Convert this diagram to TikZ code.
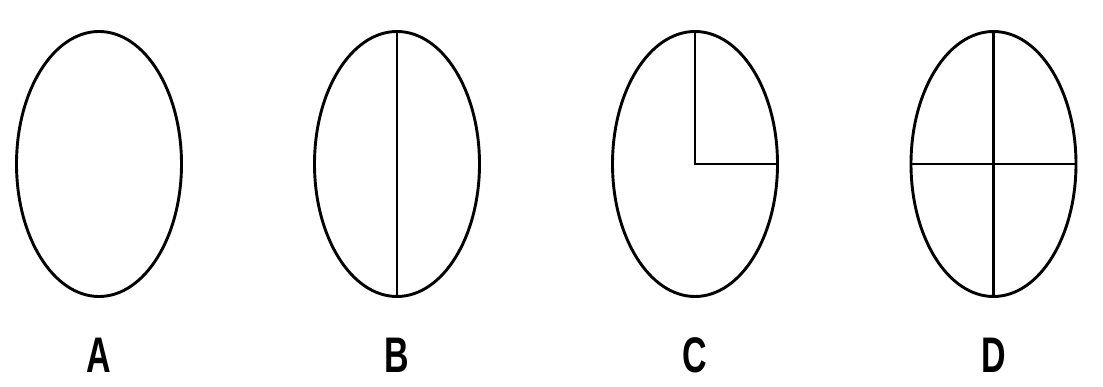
\documentclass[tikz,border=0pt]{standalone}
\usepackage{fontspec}
\setmainfont{Liberation Sans}
\usetikzlibrary{shapes.geometric}

\begin{document}
\begin{tikzpicture}[x=1pt, y=1pt, line width=2.9pt,
    disc/.style={draw, ellipse, minimum width=165pt, minimum height=265pt, inner sep=0pt, outer sep=0pt},
    tag/.style={inner sep=0pt, font=\fontsize{50}{60}\selectfont\bfseries}]
    \useasboundingbox (0,0) rectangle (1103,387);

    % the four ellipses
        \node[disc] (A) at (99,223) {};
        \node[disc] (B) at (397,223) {};
        \node[disc] (C) at (695,223) {};
        \node[disc] (D) at (993.5,223) {};

    % B: one half
        \draw (B.north) -- (B.south);

    % C: one quarter
        \draw (C.north) -- (C.center) -- (C.east);

    % D: four quarters
        \draw (D.north) -- (D.south);
        \draw (D.west) -- (D.east);

    % labels under the ellipses
        \node[tag] (lA) at (99,32) {\scalebox{0.68}[1]{A}};
        \node[tag] (lB) at (397,32) {\scalebox{0.68}[1]{B}};
        \node[tag] (lC) at (695,32) {\scalebox{0.68}[1]{C}};
        \node[tag] (lD) at (993.5,32) {\scalebox{0.68}[1]{D}};
\end{tikzpicture}
\end{document}
